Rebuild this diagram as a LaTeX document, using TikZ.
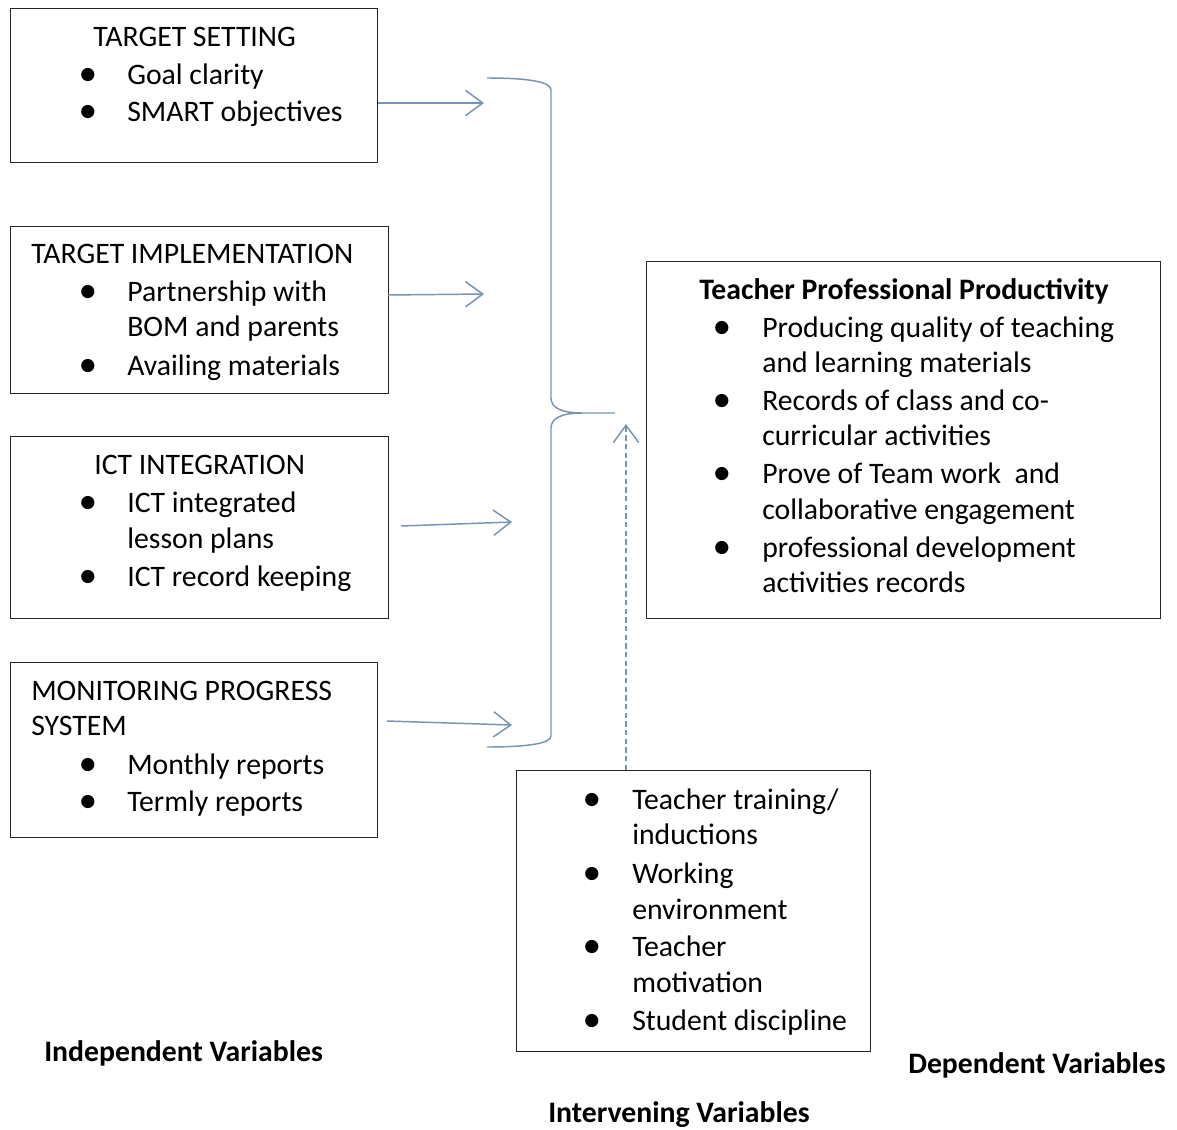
\documentclass[tikz,border=0pt]{standalone}
\usepackage{fontspec}
\setmainfont{Carlito}
\usetikzlibrary{arrows.meta}
\definecolor{arr}{RGB}{120,148,178}
\begin{document}
\begin{tikzpicture}[x=0.75pt,y=-0.75pt,
  box/.style={draw=black!85, line width=0.9pt, inner sep=0, anchor=north west},
  ln/.style={anchor=base west, inner sep=0, font=\fontsize{22.3}{27}\selectfont},
  bl/.style={ln, font=\fontsize{22.3}{27}\selectfont\bfseries},
  bul/.style={anchor=base, inner sep=0, font=\fontsize{28}{28}\selectfont},
  conn/.style={draw=arr, line width=1.1pt, -{Straight Barb[length=13pt,width=19pt]}},
  dconn/.style={conn, dash pattern=on 4pt off 2.5pt},
  bracestyle/.style={draw=arr, line width=1.1pt},
]
\useasboundingbox (0,0) rectangle (1177,1129);

% boxes
\node[box, minimum width=275.25pt, minimum height=115.5pt] (ts) at (10,8) {};
\node[box, minimum width=283.5pt, minimum height=125.25pt] (ti) at (10,226) {};
\node[box, minimum width=283.5pt, minimum height=136.5pt] (ict) at (10,436) {};
\node[box, minimum width=275.25pt, minimum height=131.25pt] (mon) at (10,662) {};
\node[box, minimum width=385.5pt, minimum height=267.75pt] (tpp) at (646,261) {};
\node[box, minimum width=265.5pt, minimum height=210.75pt] (iv) at (516,770) {};

% box 1
\node[ln] (t1) at (93,46) {TARGET SETTING};
\node[bul] (t1b1) at (88,85) {•};
\node[ln] (t1l1) at (127,84) {Goal clarity};
\node[bul] (t1b2) at (88,122) {•};
\node[ln] (t1l2) at (127,121) {SMART objectives};

% box 2
\node[ln] (t2) at (31,263) {TARGET IMPLEMENTATION};
\node[bul] (t2b1) at (88,302) {•};
\node[ln] (t2l1) at (127,301) {Partnership with};
\node[ln] (t2l2) at (127,336) {BOM and parents};
\node[bul] (t2b2) at (88,376) {•};
\node[ln] (t2l3) at (127,375) {Availing materials};

% box 3
\node[ln] (t3) at (94,474) {ICT INTEGRATION};
\node[bul] (t3b1) at (88,513) {•};
\node[ln] (t3l1) at (127,512) {ICT integrated};
\node[ln] (t3l2) at (127,548) {lesson plans};
\node[bul] (t3b2) at (88,587) {•};
\node[ln] (t3l3) at (127,586) {ICT record keeping};

% box 4
\node[ln] (t4) at (31,700) {MONITORING PROGRESS};
\node[ln] (t4s) at (31,735) {SYSTEM};
\node[bul] (t4b1) at (88,775) {•};
\node[ln] (t4l1) at (127,774) {Monthly reports};
\node[bul] (t4b2) at (88,812) {•};
\node[ln] (t4l2) at (127,811) {Termly reports};

% box 5
\node[bl] (t5) at (699,299) {Teacher Professional Productivity};
\node[bul] (t5b1) at (722,338) {•};
\node[ln] (t5l1) at (762,337) {Producing quality of teaching};
\node[ln] (t5l2) at (762,372) {and learning materials};
\node[bul] (t5b2) at (722,411) {•};
\node[ln] (t5l3) at (762,410) {Records of class and co-};
\node[ln] (t5l4) at (762,445) {curricular activities};
\node[bul] (t5b3) at (722,484) {•};
\node[ln] (t5l5) at (762,483) {Prove of Team work\ \ and};
\node[ln] (t5l6) at (762,519) {collaborative engagement};
\node[bul] (t5b4) at (722,558) {•};
\node[ln] (t5l7) at (762,557) {professional development};
\node[ln] (t5l8) at (762,592) {activities records};

% box 6
\node[bul] (t6b1) at (592,810) {•};
\node[ln] (t6l1) at (632,809) {Teacher training/};
\node[ln] (t6l2) at (632,844) {inductions};
\node[bul] (t6b2) at (592,884) {•};
\node[ln] (t6l3) at (632,883) {Working};
\node[ln] (t6l4) at (632,919) {environment};
\node[bul] (t6b3) at (592,957) {•};
\node[ln] (t6l5) at (632,956) {Teacher};
\node[ln] (t6l6) at (632,992) {motivation};
\node[bul] (t6b4) at (592,1031) {•};
\node[ln] (t6l7) at (632,1030) {Student discipline};

% labels
\node[bl] (lind) at (44,1061) {Independent Variables};
\node[bl] (ldep) at (908,1073) {Dependent Variables};
\node[bl] (lint) at (548,1122) {Intervening Variables};

% connector coordinates
\coordinate (e1) at (484,103);
\coordinate (s2) at (388,295);
\coordinate (e2) at (484,294);
\coordinate (s3) at (401,526);
\coordinate (e3) at (512,522);
\coordinate (s4) at (387,721);
\coordinate (e4) at (512,725);
\coordinate (tip) at (626,424);

\draw[conn] (ts.north east |- e1) -- (e1);
\draw[conn] (s2) -- (e2);
\draw[conn] (s3) -- (e3);
\draw[conn] (s4) -- (e4);
\draw[dconn] (iv.north west -| tip) -- (tip);

% brace
\draw[bracestyle] (487,78) .. controls (530,78) and (551,82) .. (551,90) -- (551,398)
  .. controls (551,408) and (562,413) .. (582,413) -- (615,413);
\draw[bracestyle] (582,413) .. controls (562,413) and (551,418) .. (551,428) -- (551,736)
  .. controls (551,743) and (530,747) .. (487,747);
\end{tikzpicture}
\end{document}
